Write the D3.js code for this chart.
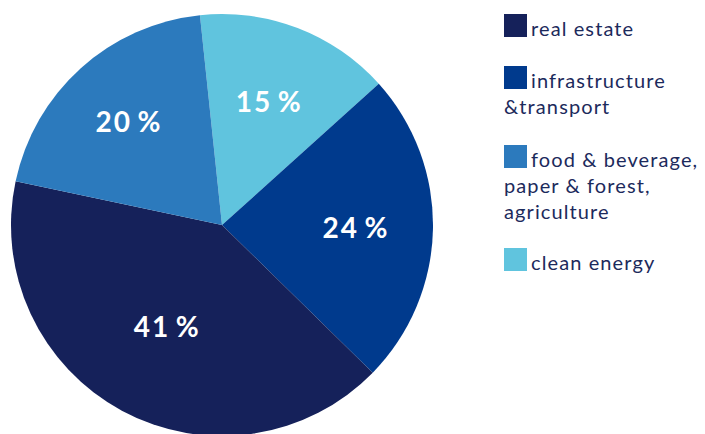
<!DOCTYPE html>
<html><head><meta charset="utf-8">
<script src="https://cdn.jsdelivr.net/npm/d3@7"></script>
<style>html,body{margin:0;padding:0;background:#fff;}svg{display:block;}</style>
</head><body>
<svg id="c" width="705" height="434"></svg>
<script>
const categories = ["real estate", "infrastructure &transport", "food & beverage, paper & forest, agriculture", "clean energy"];
const legendLines = [["real estate"], ["infrastructure", "&transport"], ["food & beverage,", "paper & forest,", "agriculture"], ["clean energy"]];
const values = [41, 24, 20, 15];
const labels = ["41\u2009%", "24\u2009%", "20\u2009%", "15\u2009%"];
const colors = ["#15215a", "#003a8d", "#2c7abd", "#60c4de"];
// clockwise drawing order of slices (indices into categories)
const sliceOrder = [3, 1, 0, 2];
// distance of each percent label from the pie centre (layout)
const labelRadius = [116, 134, 139, 132];

const svg = d3.select("#c");
const cx = 222, cy = 225, R = 211;
const startDeg = -6;
const pie = d3.pie().sort(null).value(i => values[i])
  .startAngle(startDeg * Math.PI / 180).endAngle((startDeg + 360) * Math.PI / 180);
const arcs = pie(sliceOrder);
const arc = d3.arc().innerRadius(0).outerRadius(R);
const g = svg.append("g").attr("transform", `translate(${cx},${cy})`);
g.selectAll("path").data(arcs).join("path")
  .attr("d", arc).attr("fill", d => colors[d.data]);
g.selectAll("text").data(arcs).join("text")
  .attr("transform", d => {
    const r = labelRadius[d.data];
    const [x, y] = d3.arc().innerRadius(r).outerRadius(r).centroid(d);
    return `translate(${x},${y})`;
  })
  .attr("text-anchor", "middle").attr("dy", "0.36em")
  .attr("fill", "#fff").attr("font-family", "Lato, sans-serif")
  .attr("font-weight", "bold").attr("font-size", 28).attr("letter-spacing", "2px")
  .text(d => labels[d.data]);

const lg = svg.append("g");
const legendTop = [14, 66, 145, 248];
categories.forEach((c, i) => {
  lg.append("rect").attr("x", 504).attr("y", legendTop[i]).attr("width", 23).attr("height", 23).attr("fill", colors[i]);
  const t = lg.append("text").attr("font-family", "Lato, sans-serif").attr("font-size", 20)
    .attr("fill", "#1c2a5c").attr("letter-spacing", "1.1px");
  legendLines[i].forEach((line, j) => {
    t.append("tspan").attr("x", j === 0 ? 531 : 504).attr("y", legendTop[i] + 22 + j * 26).text(line);
  });
});
</script>
</body></html>
